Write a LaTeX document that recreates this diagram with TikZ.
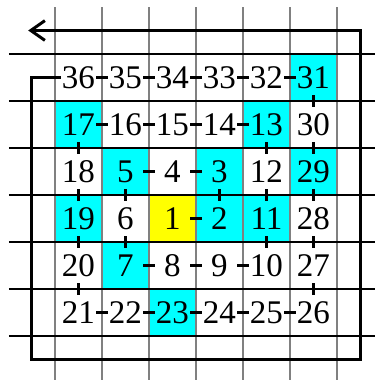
\documentclass[tikz,border=0pt]{standalone}
\usepackage{fontspec}
\setmainfont{Liberation Serif}
\usetikzlibrary{arrows.meta}

\definecolor{primecyan}{RGB}{0,255,255}
\definecolor{unityellow}{RGB}{255,255,0}

\begin{document}
\begin{tikzpicture}[
    cell/.style={rectangle, minimum size=1cm, inner sep=0pt, outer sep=-0.12cm, font=\fontsize{20}{24}\selectfont},
    prime/.style={fill=primecyan},
    unit/.style={fill=unityellow},
    link/.style={line width=1.8pt},
    vline/.style={gray, line width=1.1pt},
    hline/.style={black, line width=0.7pt},
    spiral/.style={line width=1.8pt, -{Straight Barb[length=3mm, width=4.2mm, line width=1.8pt]}}
]
\useasboundingbox (-1.170,-6.936) rectangle (6.809,1.149);

% Celdas
\node[cell, unit] (n1) at (2.5,-3.5) {1};
\node[cell, prime] (n2) at (3.5,-3.5) {2};
\node[cell, prime] (n3) at (3.5,-2.5) {3};
\node[cell] (n4) at (2.5,-2.5) {4};
\node[cell, prime] (n5) at (1.5,-2.5) {5};
\node[cell] (n6) at (1.5,-3.5) {6};
\node[cell, prime] (n7) at (1.5,-4.5) {7};
\node[cell] (n8) at (2.5,-4.5) {8};
\node[cell] (n9) at (3.5,-4.5) {9};
\node[cell] (n10) at (4.5,-4.5) {10};
\node[cell, prime] (n11) at (4.5,-3.5) {11};
\node[cell] (n12) at (4.5,-2.5) {12};
\node[cell, prime] (n13) at (4.5,-1.5) {13};
\node[cell] (n14) at (3.5,-1.5) {14};
\node[cell] (n15) at (2.5,-1.5) {15};
\node[cell] (n16) at (1.5,-1.5) {16};
\node[cell, prime] (n17) at (0.5,-1.5) {17};
\node[cell] (n18) at (0.5,-2.5) {18};
\node[cell, prime] (n19) at (0.5,-3.5) {19};
\node[cell] (n20) at (0.5,-4.5) {20};
\node[cell] (n21) at (0.5,-5.5) {21};
\node[cell] (n22) at (1.5,-5.5) {22};
\node[cell, prime] (n23) at (2.5,-5.5) {23};
\node[cell] (n24) at (3.5,-5.5) {24};
\node[cell] (n25) at (4.5,-5.5) {25};
\node[cell] (n26) at (5.5,-5.5) {26};
\node[cell] (n27) at (5.5,-4.5) {27};
\node[cell] (n28) at (5.5,-3.5) {28};
\node[cell, prime] (n29) at (5.5,-2.5) {29};
\node[cell] (n30) at (5.5,-1.5) {30};
\node[cell, prime] (n31) at (5.5,-0.5) {31};
\node[cell] (n32) at (4.5,-0.5) {32};
\node[cell] (n33) at (3.5,-0.5) {33};
\node[cell] (n34) at (2.5,-0.5) {34};
\node[cell] (n35) at (1.5,-0.5) {35};
\node[cell] (n36) at (0.5,-0.5) {36};

% Rejilla
\draw[vline] (0,1) -- (0,-6.94) (1,1) -- (1,-6.94) (2,1) -- (2,-6.94) (3,1) -- (3,-6.94)
    (4,1) -- (4,-6.94) (5,1) -- (5,-6.94) (6,1) -- (6,-6.94);
\draw[hline] (-0.98,0) -- (6.81,0) (-0.98,-1) -- (6.81,-1) (-0.98,-2) -- (6.81,-2) (-0.98,-3) -- (6.81,-3)
    (-0.98,-4) -- (6.81,-4) (-0.98,-5) -- (6.81,-5) (-0.98,-6) -- (6.81,-6);

% Enlaces entre consecutivos
\draw[link] (n1) -- (n2);
\draw[link] (n2) -- (n3);
\draw[link] (n3) -- (n4);
\draw[link] (n4) -- (n5);
\draw[link] (n5) -- (n6);
\draw[link] (n6) -- (n7);
\draw[link] (n7) -- (n8);
\draw[link] (n8) -- (n9);

\draw[link] (n9) -- (n10);
\draw[link] (n10) -- (n11);
\draw[link] (n11) -- (n12);
\draw[link] (n12) -- (n13);
\draw[link] (n13) -- (n14);
\draw[link] (n14) -- (n15);
\draw[link] (n15) -- (n16);
\draw[link] (n16) -- (n17);
\draw[link] (n17) -- (n18);
\draw[link] (n18) -- (n19);
\draw[link] (n19) -- (n20);
\draw[link] (n20) -- (n21);
\draw[link] (n21) -- (n22);
\draw[link] (n22) -- (n23);
\draw[link] (n23) -- (n24);
\draw[link] (n24) -- (n25);

\draw[link] (n25) -- (n26);
\draw[link] (n26) -- (n27);
\draw[link] (n27) -- (n28);
\draw[link] (n28) -- (n29);
\draw[link] (n29) -- (n30);
\draw[link] (n30) -- (n31);
\draw[link] (n31) -- (n32);
\draw[link] (n32) -- (n33);
\draw[link] (n33) -- (n34);
\draw[link] (n34) -- (n35);
\draw[link] (n35) -- (n36);

% Espiral exterior
\coordinate (fin) at (-0.57,0.5);
\draw[spiral] (n36.west) -- (-0.5,-0.5) -- (-0.5,-6.5) -- (6.5,-6.5) -- (6.5,0.5) -- (fin);

\end{tikzpicture}
\end{document}
